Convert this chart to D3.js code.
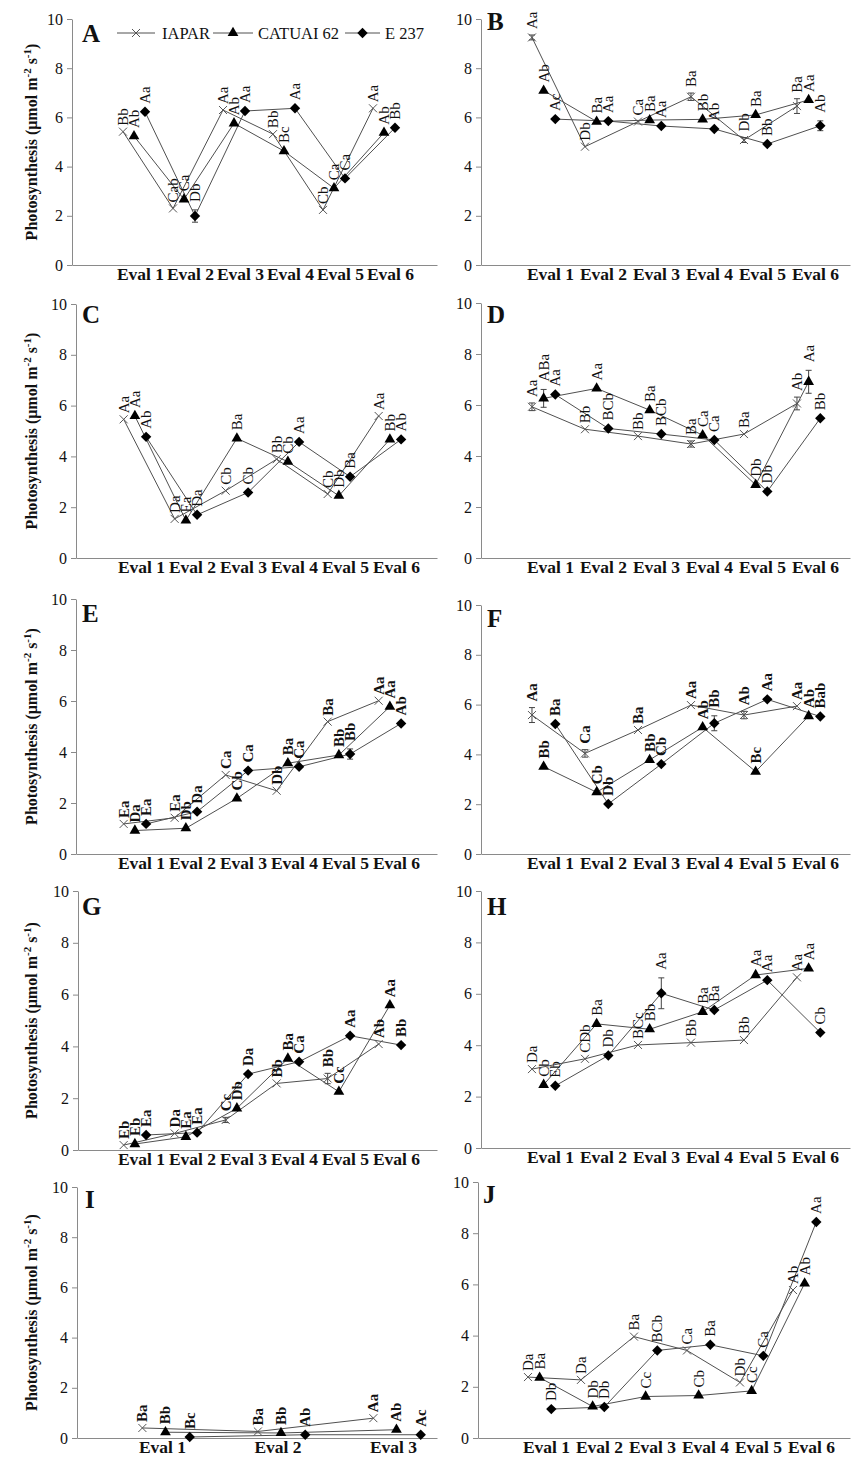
<!DOCTYPE html>
<html>
<head>
<meta charset="utf-8">
<script src="https://cdn.jsdelivr.net/npm/d3@7"></script>
<style>
  body { margin: 0; background: #fff; }
  svg { display: block; }
  text { font-family: "Liberation Serif", "Times New Roman", serif; fill: #111; }
</style>
</head>
<body>
<svg id="fig" width="852" height="1457"></svg>
<script>
const evals6 = ["Eval 1", "Eval 2", "Eval 3", "Eval 4", "Eval 5", "Eval 6"];
const evals3 = ["Eval 1", "Eval 2", "Eval 3"];
const seriesNames = ["IAPAR", "CATUAI 62", "E 237"];
const yTicks = [0, 2, 4, 6, 8, 10];

// rows: IAPAR, CATUAI 62, E 237
const valuesA = [[5.42, 2.30, 6.30, 5.32, 2.24, 6.37], [5.24, 2.67, 5.76, 4.63, 3.12, 5.38], [6.23, 1.99, 6.26, 6.37, 3.52, 5.58]];
const lettersA = [["Bb", "Cab", "Aa", "Bb", "Cb", "Aa"], ["Ab", "Ca", "Ab", "Bc", "Ca", "Ab"], ["Aa", "Db", "Aa", "Aa", "Ca", "Bb"]];
const errorsA = [[0, 0, 0, 0, 0, 0], [0, 0, 0, 0, 0, 0], [0, 0.25, 0, 0, 0, 0]];

const valuesB = [[9.25, 4.81, 5.83, 6.84, 5.08, 6.46], [7.09, 5.83, 5.89, 5.92, 6.10, 6.71], [5.93, 5.85, 5.65, 5.53, 4.92, 5.66]];
const lettersB = [["Aa", "Db", "Ca", "Ba", "Db", "Ba"], ["Ab", "Ba", "Ba", "Bb", "Ba", "Aa"], ["Ac", "Aa", "Aa", "Ab", "Bb", "Ab"]];
const errorsB = [[0.1, 0, 0, 0.15, 0.1, 0.3], [0, 0, 0, 0, 0, 0], [0, 0, 0, 0, 0, 0.2]];

const valuesC = [[5.46, 1.54, 2.65, 3.89, 2.52, 5.59], [5.59, 1.48, 4.71, 3.79, 2.45, 4.67], [4.77, 1.70, 2.58, 4.57, 3.20, 4.67]];
const lettersC = [["Aa", "Da", "Cb", "Bb", "Cb", "Aa"], ["Aa", "Ea", "Ba", "Cb", "Db", "Bb"], ["Ab", "Da", "Cb", "Aa", "Ba", "Ab"]];
const errorsC = [[0, 0, 0, 0, 0, 0], [0, 0, 0, 0, 0, 0], [0, 0, 0, 0, 0, 0]];

const valuesD = [[5.93, 5.05, 4.78, 4.47, 4.86, 6.06], [6.26, 6.65, 5.80, 4.82, 2.87, 6.91], [6.41, 5.08, 4.86, 4.63, 2.61, 5.48]];
const lettersD = [["Aa", "Bb", "Bb", "Ba", "Ba", "Ab"], ["ABa", "Aa", "Ba", "Ca", "Db", "Aa"], ["Aa", "BCb", "BCb", "Ca", "Db", "Bb"]];
const errorsD = [[0.15, 0, 0, 0.12, 0, 0.25], [0.35, 0, 0, 0, 0, 0.45], [0, 0, 0, 0, 0, 0]];

const valuesE = [[1.18, 1.42, 3.10, 2.48, 5.19, 6.01], [0.92, 1.01, 2.18, 3.56, 3.88, 5.78], [1.18, 1.66, 3.27, 3.42, 3.92, 5.12]];
const lettersE = [["Ea", "Ea", "Ca", "Db", "Ba", "Aa"], ["Da", "Db", "Cb", "Ba", "Bb", "Aa"], ["Ea", "Da", "Ca", "Ca", "Bb", "Ab"]];
const errorsE = [[0, 0, 0, 0, 0, 0], [0, 0, 0, 0, 0, 0], [0, 0, 0, 0, 0.2, 0]];

const valuesF = [[5.58, 4.04, 4.98, 5.98, 5.58, 5.94], [3.51, 2.48, 3.78, 5.09, 3.31, 5.54], [5.22, 2.01, 3.61, 5.25, 6.21, 5.52]];
const lettersF = [["Aa", "Ca", "Ba", "Aa", "Ab", "Aa"], ["Bb", "Cb", "Bb", "Ab", "Bc", "Ab"], ["Ba", "Db", "Cb", "Bb", "Aa", "Bab"]];
const errorsF = [[0.3, 0.15, 0, 0, 0.15, 0], [0, 0, 0, 0, 0, 0], [0, 0, 0, 0.3, 0, 0]];

const valuesG = [[0.19, 0.64, 1.16, 2.57, 2.76, 4.09], [0.23, 0.51, 1.61, 3.53, 2.25, 5.59], [0.58, 0.67, 2.93, 3.41, 4.41, 4.05]];
const lettersG = [["Eb", "Da", "Cc", "Bb", "Bb", "Ab"], ["Eb", "Ea", "Db", "Ba", "Cc", "Aa"], ["Ea", "Ea", "Da", "Ca", "Aa", "Bb"]];
const errorsG = [[0, 0, 0.1, 0, 0.2, 0], [0, 0, 0, 0, 0, 0], [0, 0, 0, 0, 0, 0]];

const valuesH = [[3.07, 3.47, 4.01, 4.10, 4.20, 6.64], [2.46, 4.83, 4.62, 5.30, 6.73, 6.99], [2.42, 3.60, 6.02, 5.37, 6.53, 4.49]];
const lettersH = [["Da", "CDb", "BCc", "Bb", "Bb", "Aa"], ["Cb", "Ba", "Bb", "Ba", "Aa", "Aa"], ["Eb", "Db", "Aa", "Ba", "Aa", "Cb"]];
const errorsH = [[0, 0, 0, 0, 0, 0], [0, 0, 0, 0, 0, 0], [0, 0, 0.6, 0, 0, 0]];

const valuesI = [[0.40, 0.26, 0.79], [0.23, 0.20, 0.33], [0.04, 0.13, 0.13]];
const lettersI = [["Ba", "Ba", "Aa"], ["Bb", "Bb", "Ab"], ["Bc", "Ab", "Ac"]];
const errorsI = [[0, 0, 0], [0, 0, 0], [0, 0, 0]];

const valuesJ = [[2.38, 2.27, 3.96, 3.42, 2.17, 5.78], [2.36, 1.23, 1.62, 1.66, 1.84, 6.04], [1.13, 1.21, 3.42, 3.64, 3.21, 8.44]];
const lettersJ = [["Da", "Da", "Ba", "Ca", "Db", "Ab"], ["Ba", "Db", "Cc", "Cb", "Cc", "Ab"], ["Db", "Db", "BCb", "Ba", "Ca", "Aa"]];
const errorsJ = [[0, 0, 0, 0, 0, 0], [0, 0, 0, 0, 0, 0], [0, 0, 0, 0, 0, 0]];

const svg = d3.select("#fig");
const lineColor = "#505050";
const axisColor = "#8a8a8a";
const serif = '"Liberation Serif", "Times New Roman", serif';

function markerPath(s) {
  if (s === 0) return "M-4,-4L4,4M-4,4L4,-4";
  if (s === 1) return d3.symbol(d3.symbolTriangle, 50)();
  return d3.symbol(d3.symbolSquare, 54)();
}

function drawPanel(p) {
  const g = svg.append("g");
  const n = p.cats.length;

  // x scale spans the whole axis line, eval centres at 1..n
  const x = d3
    .scaleLinear()
    .domain([1 - (p.x1 - p.left) / p.step, 1 + (p.right - p.x1) / p.step])
    .range([p.left, p.right]);
  const y = d3.scaleLinear().domain([0, 10]).range([p.bottom, p.top]);

  // y axis
  const ya = g
    .append("g")
    .attr("transform", `translate(${p.left},0)`)
    .call(d3.axisLeft(y).tickValues(yTicks).tickSize(5).tickSizeOuter(0).tickPadding(4));
  ya.attr("font-family", null);
  ya.select(".domain").attr("stroke", axisColor);
  ya.selectAll(".tick line").attr("stroke", axisColor);
  ya.selectAll(".tick text")
    .style("font-family", serif)
    .style("font-size", "16px")
    .attr("fill", "#111");

  // x axis
  const xa = g
    .append("g")
    .attr("transform", `translate(0,${p.bottom})`)
    .call(
      d3.axisBottom(x)
        .tickValues(d3.range(1, n + 1))
        .tickFormat((d) => p.cats[d - 1])
        .tickSize(0)
        .tickPadding(3)
    );
  xa.attr("font-family", null);
  xa.select(".domain").attr("stroke", axisColor);
  xa.selectAll(".tick text")
    .style("font-family", serif)
    .style("font-size", "17.5px")
    .style("font-weight", "bold")
    .attr("fill", "#111");

  // panel letter
  g.append("text")
    .attr("x", p.letterX)
    .attr("y", p.letterY)
    .style("font-size", "25px")
    .style("font-weight", "bold")
    .text(p.id);

  if (p.yTitle) {
    const t = g
      .append("text")
      .attr("transform", `translate(37,${(p.top + p.bottom) / 2}) rotate(-90)`)
      .attr("text-anchor", "middle")
      .style("font-size", "16px")
      .style("font-weight", "bold");
    t.append("tspan").text("Photosynthesis (\u03bcmol m");
    t.append("tspan").attr("dy", -6).style("font-size", "11px").text("-2");
    t.append("tspan").attr("dy", 6).text(" s");
    t.append("tspan").attr("dy", -6).style("font-size", "11px").text("-1");
    t.append("tspan").attr("dy", 6).text(")");
  }

  const line = d3
    .line()
    .x((d) => x(d.i + 1 + p.offsets[d.s]))
    .y((d) => y(d.v));

  const series = p.values.map((vals, s) =>
    vals.map((v, i) => ({ s, i, v, e: p.errors[s][i], lab: p.letters[s][i] }))
  );

  // connecting lines
  g.selectAll(".ser")
    .data(series)
    .enter()
    .append("path")
    .attr("d", line)
    .attr("fill", "none")
    .attr("stroke", lineColor)
    .attr("stroke-width", 1);

  const pts = series.flat();

  // error bars
  const eb = g.selectAll(".eb").data(pts.filter((d) => d.e > 0)).enter().append("g");
  eb.append("line")
    .attr("x1", (d) => x(d.i + 1 + p.offsets[d.s]))
    .attr("x2", (d) => x(d.i + 1 + p.offsets[d.s]))
    .attr("y1", (d) => y(d.v - d.e))
    .attr("y2", (d) => y(d.v + d.e));
  [-1, 1].forEach((k) => {
    eb.append("line")
      .attr("x1", (d) => x(d.i + 1 + p.offsets[d.s]) - 3)
      .attr("x2", (d) => x(d.i + 1 + p.offsets[d.s]) + 3)
      .attr("y1", (d) => y(d.v + k * d.e))
      .attr("y2", (d) => y(d.v + k * d.e));
  });
  eb.selectAll("line").attr("stroke", "#444").attr("stroke-width", 1);

  // markers
  g.selectAll(".mk")
    .data(pts)
    .enter()
    .append("path")
    .attr("d", (d) => markerPath(d.s))
    .attr("transform", (d) => {
      const rot = d.s === 2 ? " rotate(45)" : "";
      return `translate(${x(d.i + 1 + p.offsets[d.s])},${y(d.v)})${rot}`;
    })
    .attr("fill", (d) => (d.s === 0 ? "none" : "#000"))
    .attr("stroke", (d) => (d.s === 0 ? "#555" : "none"))
    .attr("stroke-width", 1);

  // significance letters
  g.selectAll(".lab")
    .data(pts)
    .enter()
    .append("text")
    .attr("transform", (d) => {
      const px = x(d.i + 1 + p.offsets[d.s]) + 5;
      const py = y(d.v + d.e) - (d.s === 0 ? 6 : 8);
      return `translate(${px},${py}) rotate(-90)`;
    })
    .style("font-size", "15px")
    .style("font-weight", p.bold ? "bold" : "normal")
    .text((d) => d.lab);

  if (p.legend) {
    const items = [
      { s: 0, x1: 117, x2: 155, tx: 162 },
      { s: 1, x1: 213, x2: 253, tx: 258 },
      { s: 2, x1: 345, x2: 380, tx: 385 },
    ];
    const ly = p.top + 14;
    items.forEach((it) => {
      g.append("line")
        .attr("x1", it.x1).attr("x2", it.x2)
        .attr("y1", ly).attr("y2", ly)
        .attr("stroke", lineColor);
      g.append("path")
        .attr("d", markerPath(it.s))
        .attr("transform", `translate(${(it.x1 + it.x2) / 2},${ly})${it.s === 2 ? " rotate(45)" : ""}`)
        .attr("fill", it.s === 0 ? "none" : "#000")
        .attr("stroke", it.s === 0 ? "#555" : "none");
      g.append("text")
        .attr("x", it.tx)
        .attr("y", ly + 5.5)
        .style("font-size", "16.5px")
        .text(seriesNames[it.s]);
    });
  }
}

const off6 = [-0.34, -0.12, 0.1];
const off3 = [-0.17, 0.03, 0.24];
const L = { left: 76, right: 437, x1: 141, step: 51, letterX: 82 };
const R = { left: 481, right: 850, x1: 550, step: 53, letterX: 487 };

drawPanel({ ...L, left: 72, id: "A", cats: evals6, values: valuesA, letters: lettersA, errors: errorsA, top: 19, bottom: 265, letterY: 42, offsets: off6, yTitle: true, legend: true, x1: 140, step: 50 });
drawPanel({ ...R, id: "B", cats: evals6, values: valuesB, letters: lettersB, errors: errorsB, top: 19, bottom: 265, letterY: 30, offsets: off6 });
drawPanel({ ...L, id: "C", cats: evals6, values: valuesC, letters: lettersC, errors: errorsC, top: 304, bottom: 558, letterY: 323, offsets: off6, yTitle: true });
drawPanel({ ...R, id: "D", cats: evals6, values: valuesD, letters: lettersD, errors: errorsD, top: 303, bottom: 558, letterY: 323, offsets: off6 });
drawPanel({ ...L, id: "E", cats: evals6, values: valuesE, letters: lettersE, errors: errorsE, top: 599, bottom: 854, letterY: 622, offsets: off6, yTitle: true, bold: true });
drawPanel({ ...R, id: "F", cats: evals6, values: valuesF, letters: lettersF, errors: errorsF, top: 605, bottom: 854, letterY: 627, offsets: off6, bold: true });
drawPanel({ ...L, left: 78, id: "G", cats: evals6, values: valuesG, letters: lettersG, errors: errorsG, top: 891, bottom: 1150, letterY: 915, offsets: off6, yTitle: true, bold: true });
drawPanel({ ...R, id: "H", cats: evals6, values: valuesH, letters: lettersH, errors: errorsH, top: 891, bottom: 1148, letterY: 915, offsets: off6 });
drawPanel({ ...L, left: 77, id: "I", cats: evals3, values: valuesI, letters: lettersI, errors: errorsI, top: 1187, bottom: 1438, letterY: 1208, offsets: off3, yTitle: true, bold: true, x1: 162, step: 115.5, letterX: 85 });
drawPanel({ ...R, left: 478, id: "J", cats: evals6, values: valuesJ, letters: lettersJ, errors: errorsJ, top: 1182, bottom: 1438, letterY: 1203, offsets: off6, letterX: 483, x1: 546 });
</script>
</body>
</html>
